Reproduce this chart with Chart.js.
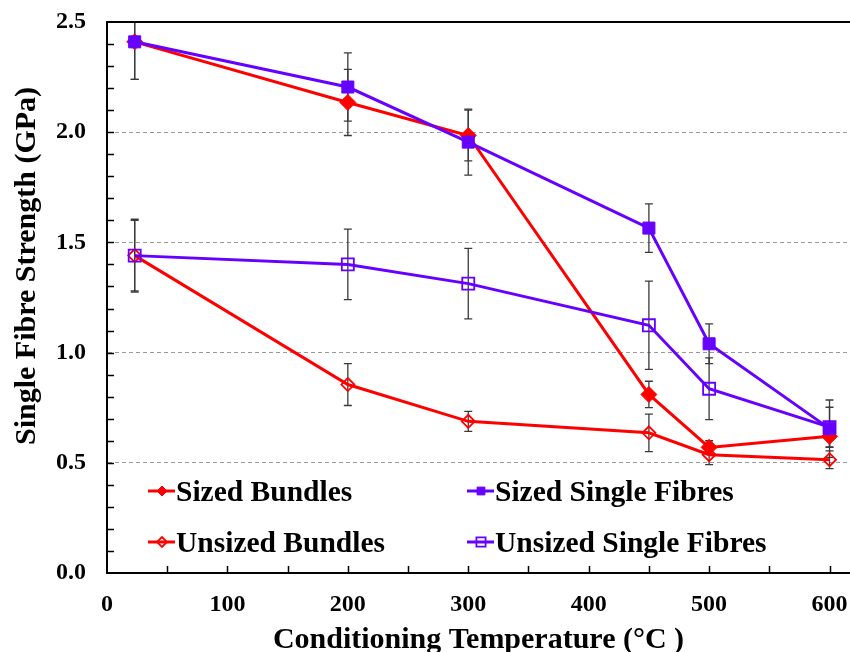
<!DOCTYPE html>
<html lang="en">
<head>
<meta charset="UTF-8" />
<title>Single Fibre Strength vs Conditioning Temperature</title>
<script src="https://cdn.jsdelivr.net/npm/chart.js"></script>
<style>
  html, body { margin: 0; padding: 0; background: #fff; }
  #grafico { display: block; }
</style>
</head>
<body>
<canvas id="grafico" width="850" height="652"></canvas>
<script>
  // dados
  const temperaturas = [23, 200, 300, 450, 500, 600]

  const sizedBundles = [2.41, 2.135, 1.985, 0.81, 0.57, 0.62]
  const sizedBundlesErro = [0.17, 0.15, 0.115, 0.06, 0.03, 0.05]

  const sizedSingle = [2.41, 2.205, 1.955, 1.565, 1.04, 0.655]
  const sizedSingleErro = [0.17, 0.155, 0.15, 0.11, 0.09, 0.13]

  const unsizedBundles = [1.44, 0.855, 0.688, 0.636, 0.537, 0.514]
  const unsizedBundlesErro = [0.16, 0.095, 0.045, 0.085, 0.045, 0.04]

  const unsizedSingle = [1.44, 1.40, 1.313, 1.124, 0.836, 0.662]
  const unsizedSingleErro = [0.165, 0.16, 0.16, 0.2, 0.14, 0.09]

  const ticksX = [0, 100, 200, 300, 400, 500, 600]
  const ticksY = [0, 0.5, 1.0, 1.5, 2.0, 2.5]

  const vermelho = "#ff0000"
  const roxo = "#6600ff"
  const fonte = "'Liberation Serif', 'Times New Roman', serif"

  function pares(xs, ys) {
    let pontos = []
    for (let i = 0; i < xs.length; i++) {
      pontos.push({ x: xs[i], y: ys[i] })
    }
    return pontos
  }

  // barras de erro, desenhadas antes das linhas
  const barrasErro = {
    id: "barrasErro",
    beforeDatasetsDraw(chart) {
      const { ctx, chartArea, scales } = chart
      ctx.save()
      ctx.beginPath()
      ctx.rect(chartArea.left, chartArea.top, chartArea.right - chartArea.left, chartArea.bottom - chartArea.top)
      ctx.clip()
      ctx.strokeStyle = "#3a3a3a"
      ctx.lineWidth = 1.3
      chart.data.datasets.forEach(function (ds) {
        ds.data.forEach(function (p, i) {
          const px = scales.x.getPixelForValue(p.x)
          const yTop = scales.y.getPixelForValue(p.y + ds.erros[i])
          const yBot = scales.y.getPixelForValue(p.y - ds.erros[i])
          ctx.beginPath()
          ctx.moveTo(px, yTop); ctx.lineTo(px, yBot)
          ctx.moveTo(px - 4, yTop); ctx.lineTo(px + 4, yTop)
          ctx.moveTo(px - 4, yBot); ctx.lineTo(px + 4, yBot)
          ctx.stroke()
        })
      })
      ctx.restore()
    },
  }

  // ticks internos, moldura, titulos e legenda
  const extras = {
    id: "extras",
    afterDraw(chart) {
      const { ctx, chartArea, scales } = chart
      ctx.save()
      ctx.strokeStyle = "#000"
      ctx.lineWidth = 1.5
      ctx.beginPath()
      for (let v = 1; v < 25; v++) {
        const py = Math.round(scales.y.getPixelForValue(v / 10)) + 0.5
        ctx.moveTo(chartArea.left, py); ctx.lineTo(chartArea.left + 7, py)
      }
      for (let v = 50; v <= 600; v += 50) {
        const px = Math.round(scales.x.getPixelForValue(v)) + 0.5
        ctx.moveTo(px, chartArea.bottom); ctx.lineTo(px, chartArea.bottom - 7)
      }
      ctx.stroke()

      // linha superior
      ctx.lineWidth = 2
      ctx.beginPath()
      ctx.moveTo(chartArea.left, chartArea.top); ctx.lineTo(chartArea.right, chartArea.top)
      ctx.stroke()

      // titulos dos eixos
      ctx.fillStyle = "#000"
      ctx.font = "bold 30px " + fonte
      ctx.textAlign = "center"
      ctx.textBaseline = "alphabetic"
      ctx.fillText("Conditioning Temperature (°C )", (chartArea.left + chartArea.right) / 2, 648)
      ctx.save()
      ctx.translate(35, 266)
      ctx.rotate(-Math.PI / 2)
      ctx.fillText("Single Fibre Strength (GPa)", 0, 0)
      ctx.restore()

      // legenda em duas colunas
      const posicoes = [[176, 491], [176, 542], [495, 491], [495, 542]]
      ctx.textAlign = "left"
      ctx.font = "bold 29.5px " + fonte
      chart.data.datasets.forEach(function (ds, i) {
        const [tx, ty] = posicoes[i]
        ctx.strokeStyle = ds.borderColor
        ctx.lineWidth = 3
        ctx.beginPath()
        ctx.moveTo(tx - 28, ty); ctx.lineTo(tx - 1, ty)
        ctx.stroke()
        ctx.fillStyle = ds.pointBackgroundColor
        ctx.strokeStyle = ds.pointBorderColor
        ctx.lineWidth = ds.pointBorderWidth
        Chart.helpers.drawPoint(ctx, { pointStyle: ds.pointStyle, radius: ds.legendRadius, rotation: 0, borderWidth: ds.pointBorderWidth }, tx - 14, ty)
        ctx.fillStyle = "#000"
        ctx.fillText(ds.label, tx, ty + 10)
      })
      ctx.restore()
    },
  }

  const ctx = document.getElementById("grafico").getContext("2d")

  new Chart(ctx, {
    type: "scatter",
    data: {
      datasets: [
        {
          label: "Sized Bundles",
          data: pares(temperaturas, sizedBundles),
          erros: sizedBundlesErro,
          showLine: true,
          borderColor: vermelho,
          borderWidth: 3,
          pointStyle: "rectRot",
          pointRadius: 8,
          pointBackgroundColor: vermelho,
          pointBorderColor: vermelho,
          pointBorderWidth: 1,
          legendRadius: 5,
          order: 3,
        },
        {
          label: "Unsized Bundles",
          data: pares(temperaturas, unsizedBundles),
          erros: unsizedBundlesErro,
          showLine: true,
          borderColor: vermelho,
          borderWidth: 3,
          pointStyle: "rectRot",
          pointRadius: 6.5,
          pointBackgroundColor: "rgba(255,255,255,0)",
          pointBorderColor: vermelho,
          pointBorderWidth: 1.8,
          legendRadius: 5,
          order: 4,
        },
        {
          label: "Sized Single Fibres",
          data: pares(temperaturas, sizedSingle),
          erros: sizedSingleErro,
          showLine: true,
          borderColor: roxo,
          borderWidth: 3,
          pointStyle: "rect",
          pointRadius: 8.5,
          pointBackgroundColor: roxo,
          pointBorderColor: roxo,
          pointBorderWidth: 1,
          legendRadius: 5.5,
          order: 1,
        },
        {
          label: "Unsized Single Fibres",
          data: pares(temperaturas, unsizedSingle),
          erros: unsizedSingleErro,
          showLine: true,
          borderColor: roxo,
          borderWidth: 3,
          pointStyle: "rect",
          pointRadius: 8.5,
          pointBackgroundColor: "rgba(255,255,255,0)",
          pointBorderColor: roxo,
          pointBorderWidth: 1.8,
          legendRadius: 6.5,
          order: 2,
        },
      ],
    },
    options: {
      responsive: false,
      animation: false,
      layout: { autoPadding: false, padding: { top: 22, right: 0, left: 0, bottom: 0 } },
      plugins: {
        legend: { display: false },
        tooltip: { enabled: false },
      },
      scales: {
        x: {
          type: "linear",
          min: 0,
          max: 617,
          afterBuildTicks: function (s) { s.ticks = ticksX.map(v => ({ value: v })) },
          afterFit: function (s) { s.height = 79; s.paddingLeft = 0; s.paddingRight = 0 },
          grid: { display: false, drawTicks: false },
          border: { display: true, color: "#000", width: 2 },
          ticks: {
            color: "#000",
            padding: 17,
            maxRotation: 0,
            font: { family: fonte, size: 24, weight: "bold" },
          },
        },
        y: {
          min: 0,
          max: 2.5,
          afterBuildTicks: function (s) { s.ticks = ticksY.map(v => ({ value: v })) },
          afterFit: function (s) { s.width = 107; s.paddingTop = 0; s.paddingBottom = 0 },
          grid: {
            drawTicks: false,
            lineWidth: 1,
            color: function (c) {
              const v = c.tick ? c.tick.value : 0
              return (v === 0 || v === 2.5) ? "rgba(0,0,0,0)" : "#9a9a9a"
            },
          },
          border: { display: true, color: "#000", width: 2, dash: [4, 3] },
          ticks: {
            color: "#000",
            padding: 21,
            font: { family: fonte, size: 24, weight: "bold" },
            callback: function (v) { return Number(v).toFixed(1) },
          },
        },
      },
    },
    plugins: [barrasErro, extras],
  })
</script>
</body>
</html>
